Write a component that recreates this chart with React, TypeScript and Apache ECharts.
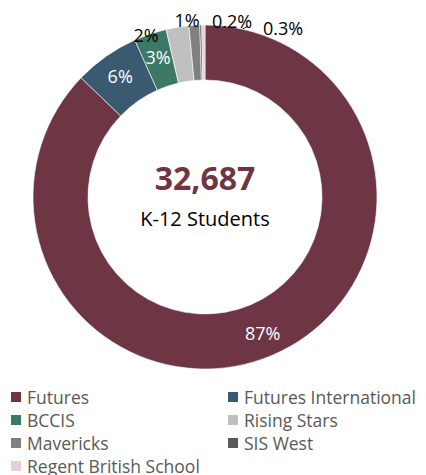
import React, { useEffect, useRef } from "react";
import * as echarts from "echarts";

const schools = [
  "Futures",
  "Futures International",
  "BCCIS",
  "Rising Stars",
  "Mavericks",
  "SIS West",
  "Regent British School",
];
const students = [28500, 2000, 1000, 700, 330, 60, 97];
const percentLabels = ["87%", "6%", "3%", "2%", "1%", "0.2%", "0.3%"];
const colors = ["#6E3645", "#3A5A72", "#3B7866", "#C0C0C0", "#808080", "#595959", "#E8CDD6"];
const totalLabel = "32,687";
const subtitle = "K-12 Students";
const legendCol1 = ["Futures", "BCCIS", "Mavericks", "Regent British School"];
const legendCol2 = ["Futures International", "Rising Stars", "SIS West"];

const FONT = "'Open Sans', sans-serif";

// outside label placement (label positions only)
const outerLabels: Record<number, { x: number; y: number; line?: number[][] }> = {
  3: { x: 146, y: 35, line: [[172, 33], [180, 33], [180, 53]] },
  4: { x: 187, y: 20 },
  5: { x: 232, y: 21, line: [[248, 26], [203, 52]] },
  6: { x: 283, y: 28, line: [[232, 37], [203, 52]] },
};

const legendBase = {
  orient: "vertical",
  top: 388,
  height: 120,
  icon: "rect",
  itemWidth: 12,
  itemHeight: 12,
  itemGap: 5,
  selectedMode: false,
  padding: 0,
  textStyle: { fontFamily: FONT, fontSize: 17.5, color: "#595959", lineHeight: 16 },
};

export default function App() {
  const ref = useRef<HTMLDivElement>(null);
  useEffect(() => {
    document.body.style.margin = "0";
    const chart = echarts.init(ref.current!, null, { renderer: "svg" });
    const data = schools.map((name, i) => {
      const outer = outerLabels[i];
      return {
        name,
        value: students[i],
        itemStyle: { color: colors[i] },
        label: outer
          ? { position: "outside", color: "#000", formatter: percentLabels[i] }
          : { position: "inside", color: "#fff", formatter: percentLabels[i] },
        labelLine: { show: !!(outer && outer.line) },
      };
    });
    chart.setOption({
      animation: false,
      legend: [
        { ...legendBase, data: legendCol1, left: 9 },
        { ...legendBase, data: legendCol2, left: 226 },
      ],
      graphic: [
        {
          type: "text",
          x: 205,
          y: 177,
          style: {
            text: totalLabel,
            fill: "#6E3645",
            font: `bold 32px ${FONT}`,
            textAlign: "center",
            textVerticalAlign: "middle",
          },
        },
        {
          type: "text",
          x: 205,
          y: 218,
          style: {
            text: subtitle,
            fill: "#000",
            font: `20px ${FONT}`,
            textAlign: "center",
            textVerticalAlign: "middle",
          },
        },
      ],
      series: [
        {
          type: "pie",
          center: [205, 197],
          radius: [117, 172],
          startAngle: 90,
          clockwise: true,
          avoidLabelOverlap: false,
          itemStyle: { borderColor: "#fff", borderWidth: 0.6 },
          label: { fontFamily: FONT, fontSize: 18 },
          labelLine: { lineStyle: { color: "#222", width: 1 }, length: 10, length2: 10 },
          emphasis: { disabled: true },
          labelLayout: (params: any) => {
            const o = outerLabels[params.dataIndex];
            if (!o) return {};
            const res: any = { x: o.x, y: o.y, align: "center", verticalAlign: "middle" };
            if (o.line) res.labelLinePoints = o.line;
            return res;
          },
          data,
        },
      ],
    });
    return () => chart.dispose();
  }, []);
  return <div ref={ref} style={{ width: 426, height: 475 }} />;
}
